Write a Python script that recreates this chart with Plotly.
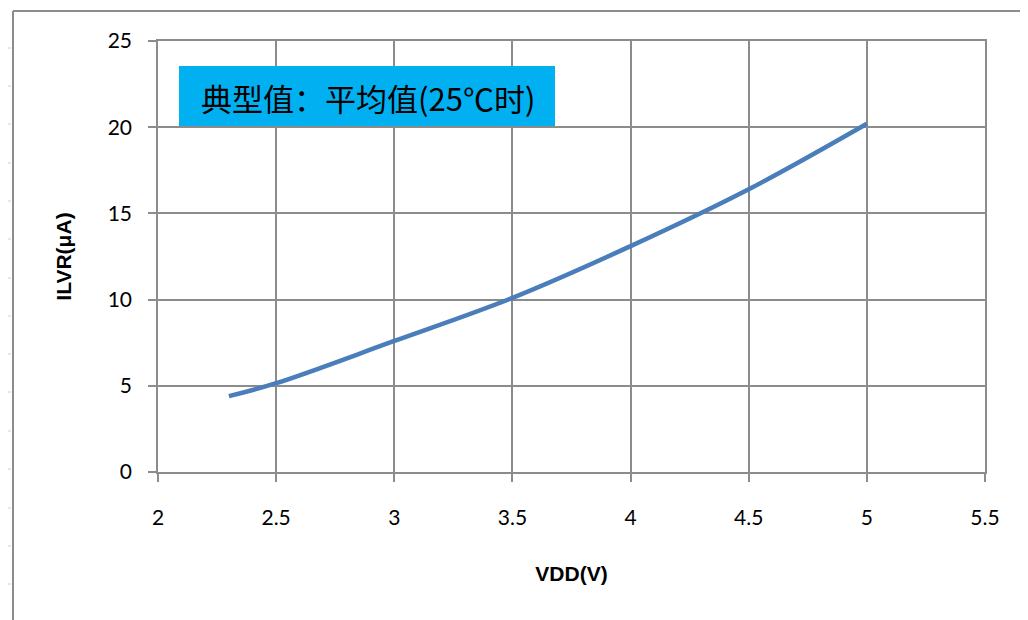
import plotly.graph_objects as go

# data
vdd = [2.3, 2.5, 3.0, 3.5, 4.0, 4.5, 5.0]
ilvr = [4.4, 5.15, 7.6, 10.1, 13.1, 16.4, 20.2]
x_ticks = [2, 2.5, 3, 3.5, 4, 4.5, 5, 5.5]
y_ticks = [0, 5, 10, 15, 20, 25]
label_text = "典型值：平均值(25℃时)"
x_title = "VDD(V)"
y_title = "ILVR(μA)"

OFF = 7  # page body margin offset
W, H = 1028, 620
L, T = 157 - OFF, 40 - OFF
pw, ph = 827, 431
R, B = W - L - pw, H - T - ph

def px(x):
    return (x - OFF - L) / pw

def py(y):
    return (H - B - (y - OFF)) / ph

fig = go.Figure()
fig.add_trace(go.Scatter(x=vdd, y=ilvr, mode="lines",
                         line=dict(color="#4A7EBB", width=4.5, shape="spline", smoothing=1.0),
                         hoverinfo="x+y", showlegend=False))

font = "Lato, 'Liberation Sans', sans-serif"
axis_common = dict(showgrid=True, gridcolor="#8C8C8C", gridwidth=1.5,
                   showline=True, linecolor="#8C8C8C", linewidth=1.5,
                   ticks="outside", ticklen=8, tickcolor="#8C8C8C", tickwidth=1.5,
                   zeroline=False, tickfont=dict(family=font, size=21, color="#000"))

title_font = dict(family="'Liberation Sans', Arial", size=21, color="#000")
fig.update_xaxes(range=[2, 5.5], tickvals=x_ticks, ticktext=[str(v) for v in x_ticks],
                 mirror=True, ticklabelstandoff=18,
                 title=dict(text="<b>" + x_title + "</b>", font=title_font, standoff=38),
                 **axis_common)
fig.update_yaxes(range=[0, 25], tickvals=y_ticks, mirror=True, ticklabelstandoff=12,
                 title=dict(text="<b>" + y_title + "</b>", font=title_font, standoff=30),
                 **axis_common)

shapes = []
# chart-area border (spreadsheet frame)
shapes.append(dict(type="line", xref="paper", yref="paper", x0=px(12), x1=px(W + 20), y0=py(10), y1=py(10),
                   line=dict(color="#8C8C8C", width=2)))
shapes.append(dict(type="line", xref="paper", yref="paper", x0=px(12), x1=px(12), y0=py(10), y1=py(H + 20),
                   line=dict(color="#8C8C8C", width=2)))
# spreadsheet column/row markers
for cx in [87, 241, 394, 548, 701, 854, 1008]:
    shapes.append(dict(type="line", xref="paper", yref="paper", x0=px(cx), x1=px(cx), y0=py(0), y1=py(6),
                       line=dict(color="#C8D0DC", width=1)))
for ry in [47, 85, 123, 162, 200, 238, 277, 315, 353, 391, 430, 468, 507, 545, 583]:
    shapes.append(dict(type="line", xref="paper", yref="paper", x0=px(4), x1=px(10), y0=py(ry), y1=py(ry),
                       line=dict(color="#C8D0DC", width=1)))
# label box
shapes.append(dict(type="rect", xref="paper", yref="paper", x0=px(178), x1=px(554), y0=py(65), y1=py(125),
                   fillcolor="#00B0F0", line=dict(width=0)))

fig.update_layout(
    width=W, height=H, margin=dict(l=L, r=R, t=T, b=B),
    paper_bgcolor="white", plot_bgcolor="white",
    shapes=shapes,
    annotations=[dict(xref="paper", yref="paper", x=px(198), y=py(96), text=label_text,
                      showarrow=False, xanchor="left", yanchor="middle",
                      font=dict(family="'Noto Sans CJK SC', sans-serif", size=31, color="#000"))],
)

fig.write_html("out.html")
